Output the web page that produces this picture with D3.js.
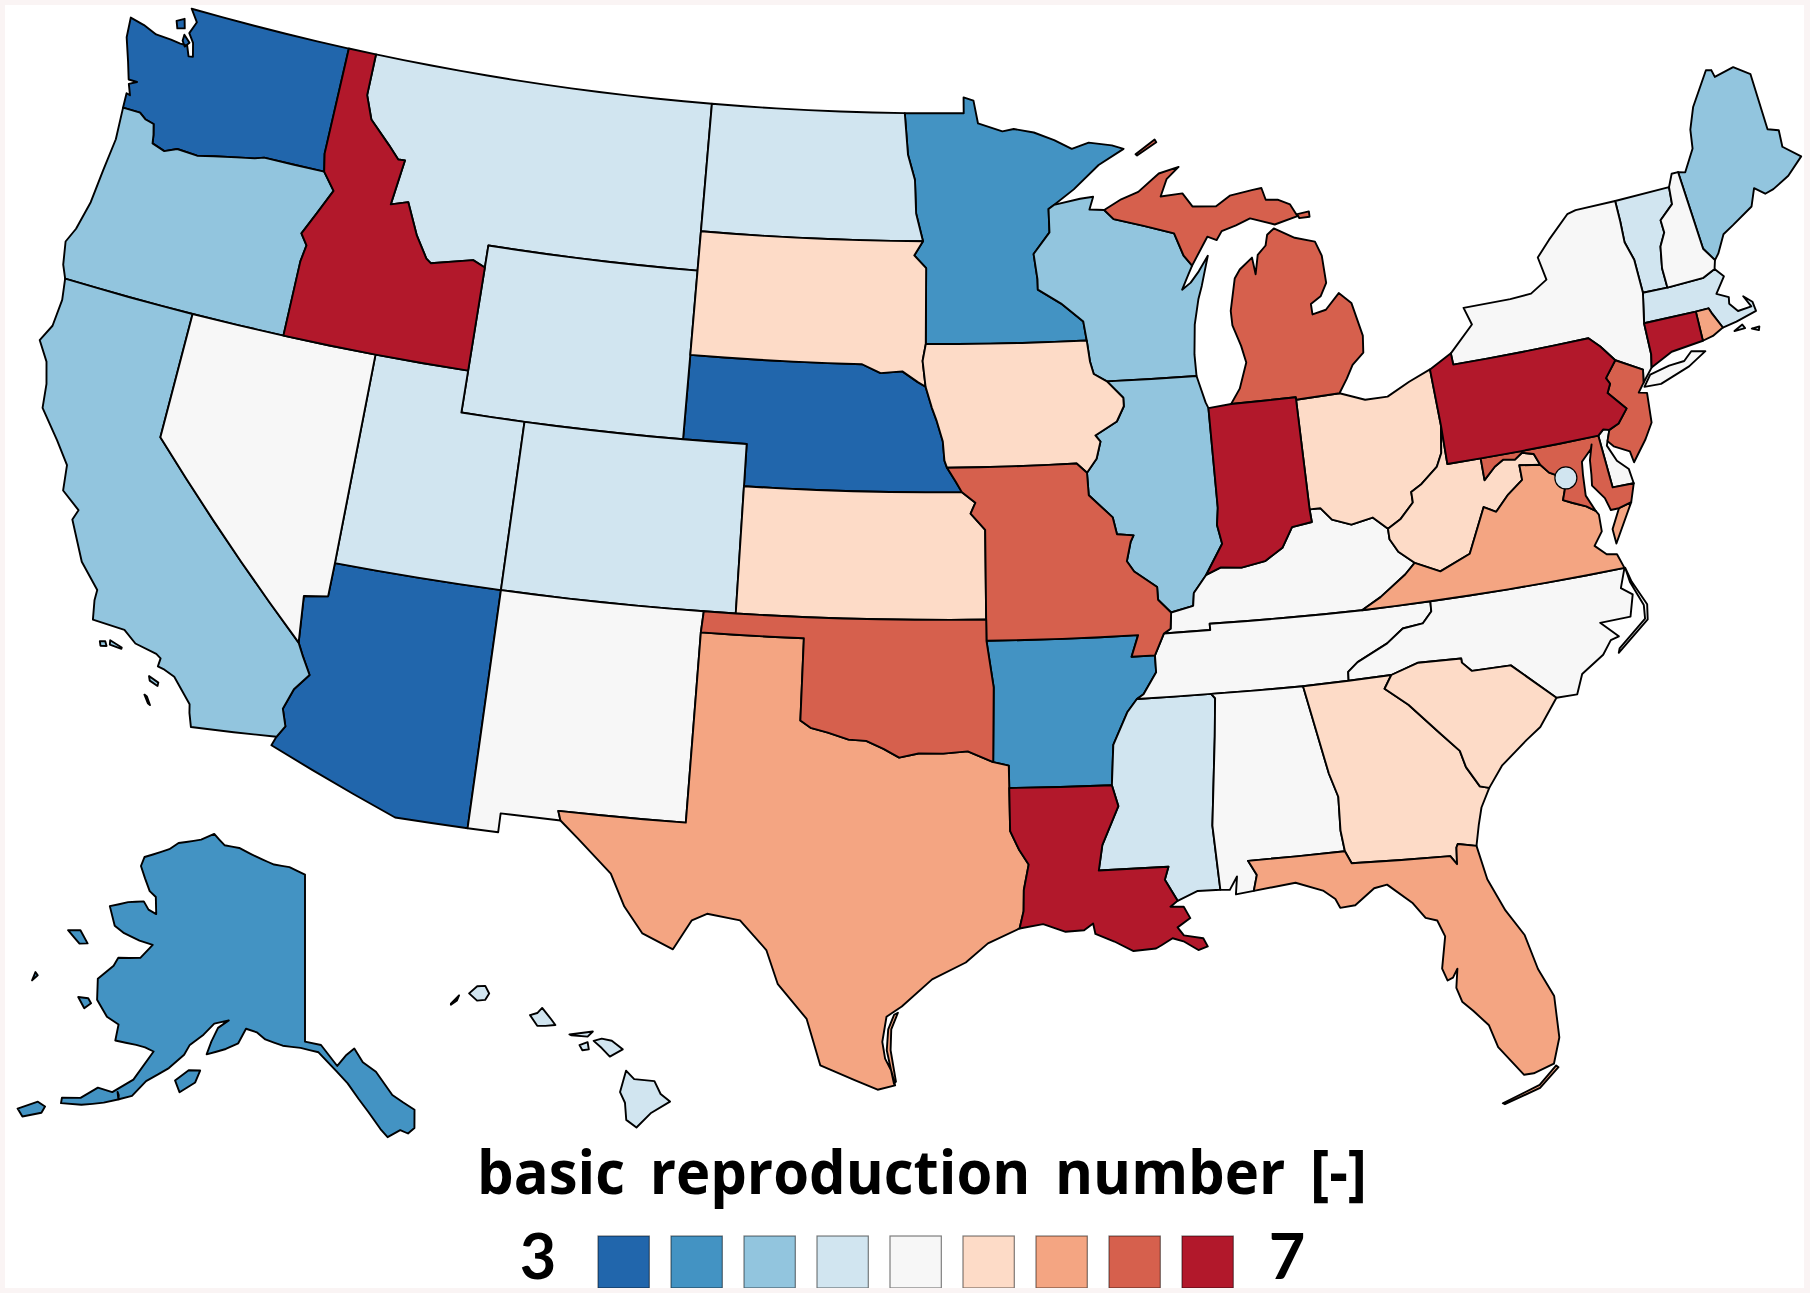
<!DOCTYPE html>
<html><head><meta charset="utf-8">
<script src="https://cdn.jsdelivr.net/npm/d3@7"></script>
<style>html,body{margin:0;padding:0;background:#faf4f4}svg{display:block}</style>
</head><body><svg id="chart" width="1810" height="1293"></svg>
<script>
// ---------- values ----------
const legendTitle = "basic reproduction number [-]";
const legendLow = "3", legendHigh = "7";
const r0Domain = [3, 7];
const stateNames = ["WA","NE","AZ","MN","AR","AK","OR","CA","WI","IL","ME","MT","ND","WY","UT","CO","MS","VT","MA","HI","DC","NV","NM","NY","NH","DE","KY","TN","NC","AL","SD","IA","KS","OH","WV","GA","SC","TX","VA","FL","RI","MI","MO","OK","NJ","MD","ID","LA","IN","PA","CT"];
const stateR0 =    [3.2,3.2,3.2,3.7,3.7,3.7,4.1,4.1,4.1,4.1,4.1,4.5,4.5,4.5,4.5,4.5,4.5,4.5,4.5,4.5,4.5,5.0,5.0,5.0,5.0,5.0,5.0,5.0,5.0,5.0,5.4,5.4,5.4,5.4,5.4,5.4,5.4,5.9,5.9,5.9,5.9,6.3,6.3,6.3,6.3,6.3,6.8,6.8,6.8,6.8,6.8];
const dcLocation = [-77.03,38.9];

// ---------- shared borders, [longitude, latitude] ----------
const waCoast=[[-122.76,49],[-122.45,48.72],[-122.6,48.42],[-122.38,48.22],[-122.25,47.9],[-122.4,47.88],[-122.55,48.12],[-122.8,48.12],[-123.15,48.15],[-123.7,48.17],[-124.2,48.3],[-124.72,48.38],[-124.65,47.9],[-124.35,47.35],[-124.15,46.95],[-123.85,46.95],[-124.1,46.85],[-123.95,46.6],[-124.08,46.62],[-124.05,46.27]];
const waOr=[[-124.05,46.27],[-123.45,46.27],[-123.2,46.15],[-122.9,46.1],[-122.8,45.85],[-122.75,45.65],[-122.3,45.55],[-121.9,45.68],[-121.2,45.65],[-120.65,45.74],[-119.9,45.85],[-119.3,45.93],[-119,46],[-116.92,46]];
const waId=[[-117.03,49],[-117.04,46.42],[-116.92,46]];
const orId=[[-116.92,46],[-116.47,45.6],[-116.85,45],[-117.2,44.45],[-116.95,44.2],[-117.03,43.8],[-117.03,42]];
const orCoast=[[-124.21,42],[-124.4,42.3],[-124.55,42.84],[-124.35,43.2],[-124.15,43.9],[-124.07,44.7],[-123.97,45.5],[-124.05,46.27]];
const idMt=[[-116.05,49],[-116.05,48],[-115.73,47.45],[-114.95,46.93],[-114.55,46.64],[-114.32,46.65],[-114.5,45.56],[-113.94,45.69],[-113.45,44.95],[-113,44.45],[-112.83,44.36],[-111.47,44.6],[-111.05,44.47]];
const caCoast=[[-117.12,32.53],[-117.25,32.85],[-117.3,33.05],[-117.9,33.6],[-118.25,33.72],[-118.42,33.75],[-118.4,33.95],[-118.55,34.03],[-119.2,34.15],[-119.6,34.4],[-120.55,34.45],[-120.65,34.9],[-120.65,35.15],[-121.3,35.7],[-121.9,36.6],[-121.8,36.85],[-122.4,37.2],[-122.5,37.8],[-123,38.3],[-123.7,38.93],[-123.8,39.5],[-124,40],[-124.4,40.44],[-124.15,40.85],[-124.1,41.5],[-124.21,42]];
const caAz=[[-114.72,32.72],[-114.53,33],[-114.7,33.4],[-114.5,33.9],[-114.14,34.3],[-114.43,34.7],[-114.63,35]];
const redRiver=[[-100,34.56],[-99.7,34.4],[-99.2,34.3],[-98.6,34.15],[-98.1,34.13],[-97.6,33.95],[-97.15,33.75],[-96.6,33.85],[-95.9,33.85],[-95.2,33.9],[-94.48,33.64]];
const txLa=[[-94.04,33.02],[-94.04,32],[-93.8,31.55],[-93.55,31.2],[-93.7,30.6],[-93.72,30.1],[-93.84,29.69]];
const txCoast=[[-93.84,29.69],[-94.7,29.35],[-95.3,28.9],[-96.2,28.5],[-97,27.85],[-97.4,27.6],[-97.5,27],[-97.42,26.6],[-97.25,26.3],[-97.15,25.96]];
const rioGrande=[[-97.15,25.96],[-97.6,25.85],[-98.2,26.07],[-99.1,26.4],[-99.5,27.5],[-100.3,28.3],[-100.65,29.1],[-101.4,29.77],[-102.3,29.88],[-102.7,29.7],[-103.15,28.98],[-104,29.3],[-104.55,29.9],[-105,30.65],[-106,31.4],[-106.53,31.78]];
const ksMo=[[-95.31,40],[-94.9,39.75],[-95.05,39.5],[-94.61,39.11]];
const neSd=[[-98.5,43],[-97.9,42.8],[-97.2,42.85],[-96.7,42.6],[-96.45,42.49]];
const neIa=[[-96.45,42.49],[-96.25,42],[-96.1,41.7],[-95.9,41.2],[-95.85,40.75],[-95.77,40.58]];
const neMo=[[-95.77,40.58],[-95.5,40.25],[-95.31,40]];
const sdMn=[[-96.56,45.94],[-96.85,45.6],[-96.45,45.3],[-96.45,43.5]];
const sdIa=[[-96.45,43.5],[-96.55,43.1],[-96.45,42.49]];
const ndMn=[[-97.23,49],[-97.1,48],[-96.85,47.4],[-96.8,46.6],[-96.56,45.94]];
const mnNorth=[[-95.15,49],[-95.15,49.38],[-94.8,49.3],[-94.65,48.75],[-93.8,48.55],[-93.4,48.6],[-92.7,48.5],[-92,48.3],[-91.4,48.07],[-90.8,48.2],[-90,48.1],[-89.6,48],[-90.5,47.65],[-91.4,47.1],[-92.1,46.75]];
const mnWi=[[-92.1,46.75],[-92.29,46.66],[-92.29,46.1],[-92.85,45.6],[-92.75,45],[-92.75,44.75],[-92,44.4],[-91.3,43.95],[-91.22,43.5]];
const iaWi=[[-91.22,43.5],[-91.15,43],[-91.05,42.7],[-90.64,42.51]];
const iaIl=[[-90.64,42.51],[-90.15,42.1],[-90.15,41.9],[-90.4,41.55],[-91.1,41.25],[-90.95,41.1],[-91.1,40.7],[-91.42,40.38]];
const wiSuperior=[[-92.1,46.75],[-91.2,46.87],[-90.75,46.9],[-90.9,46.6],[-90.4,46.57]];
const wiMi=[[-90.4,46.57],[-90.1,46.34],[-89.1,46.13],[-88.1,45.9],[-87.85,45.35],[-87.6,45.1]];
const wiLake=[[-87.6,45.1],[-87.75,44.9],[-88,44.55],[-87.7,44.7],[-87.4,44.95],[-87.05,45.3],[-87.35,44.6],[-87.5,44.3],[-87.7,43.7],[-87.8,43],[-87.8,42.49]];
const ilIn=[[-87.53,41.71],[-87.53,39.35],[-87.6,38.95],[-87.5,38.5],[-88.05,37.8]];
const ilKy=[[-88.05,37.8],[-88.45,37.4],[-88.5,37.1],[-89.15,36.98]];
const ilMo=[[-89.15,36.98],[-89.5,37.3],[-89.5,37.6],[-90.15,38],[-90.35,38.25],[-90.2,38.7],[-90.1,38.85],[-90.6,38.9],[-90.7,39.3],[-91.4,39.85],[-91.42,40.38]];
const inKy=[[-84.82,39.1],[-84.8,38.8],[-85.4,38.73],[-85.75,38.27],[-86.3,38],[-87,37.9],[-87.6,37.95],[-88.05,37.8]];
const ohWv=[[-80.52,40.64],[-80.65,40],[-80.85,39.7],[-81.4,39.35],[-81.75,39.2],[-81.75,38.95],[-82.2,38.6],[-82.6,38.42]];
const ohKy=[[-82.6,38.42],[-83,38.73],[-83.65,38.63],[-84.2,38.8],[-84.5,39.1],[-84.82,39.1]];
const tnKy=[[-89.4,36.5],[-88.07,36.5],[-88.07,36.65],[-83.68,36.6]];
const kyVa=[[-83.68,36.6],[-83.1,36.85],[-82.3,37.3],[-81.97,37.54]];
const kyWv=[[-81.97,37.54],[-82.4,37.85],[-82.6,38.17],[-82.6,38.42]];
const ncTn=[[-81.68,36.59],[-81.7,36.35],[-82,36.1],[-82.6,36.05],[-83.1,35.75],[-84,35.4],[-84.3,35.2],[-84.32,34.99]];
const arTn=[[-89.7,36],[-89.7,35.6],[-90.1,35.1],[-90.3,35]];
const arMs=[[-90.3,35],[-90.6,34.7],[-91.05,33.95],[-91.15,33]];
const laMs=[[-91.15,33],[-91,32.5],[-91.5,31.6],[-91.63,31],[-89.73,31],[-89.85,30.7],[-89.55,30.18]];
const laCoast=[[-89.55,30.18],[-89.75,30.05],[-89.4,30.03],[-89.25,29.75],[-89.6,29.55],[-89.45,29.35],[-88.95,29.25],[-88.85,29.05],[-89.1,28.98],[-89.45,29.2],[-89.75,29.3],[-90.05,29.15],[-90.2,29.08],[-90.8,29.05],[-91.3,29.3],[-91.8,29.5],[-91.85,29.75],[-92.1,29.6],[-92.6,29.58],[-93.2,29.78],[-93.84,29.69]];
const msAl=[[-88.4,30.37],[-88.47,31.9],[-88.2,34],[-88.1,34.89],[-88.2,35]];
const alGa=[[-85.61,34.98],[-85.18,32.87],[-85,32.3],[-85.05,31.5],[-85,31]];
const gaFl=[[-85,31],[-84.86,30.7],[-82.2,30.57],[-82.05,30.36],[-82,30.75],[-81.95,30.83],[-81.45,30.72]];
const gaSc=[[-83.11,35],[-83.35,34.7],[-82.75,34.25],[-82,33.5],[-81.5,33],[-81.4,32.6],[-81.1,32.1],[-80.85,32.03]];
const gaCoast=[[-80.85,32.03],[-81.15,31.6],[-81.3,31.2],[-81.45,30.72]];
const flCoast=[[-81.45,30.72],[-81.3,29.9],[-80.95,29.1],[-80.55,28.45],[-80.35,27.6],[-80.05,26.9],[-80.1,25.9],[-80.35,25.3],[-80.9,25.15],[-81.15,25.15],[-81.7,25.9],[-81.85,26.45],[-82.2,26.85],[-82.45,27.1],[-82.55,27.45],[-82.45,27.9],[-82.6,27.7],[-82.75,27.65],[-82.85,27.95],[-82.65,28.7],[-82.8,29.1],[-83.1,29.2],[-83.4,29.6],[-84,30.1],[-84.35,30.05],[-84.9,29.7],[-85.3,29.68],[-85.4,29.9],[-85.7,30.13],[-86.4,30.38],[-87.52,30.28]];
const scNc=[[-83.11,35],[-82.3,35.2],[-81.05,35.15],[-81.05,35.05],[-80.8,34.82],[-79.67,34.8],[-78.55,33.86]];
const scCoast=[[-78.55,33.86],[-79.15,33.25],[-79.6,33],[-80.4,32.5],[-80.85,32.03]];
const ncCoast=[[-78.55,33.86],[-77.95,33.85],[-77.7,34.3],[-77,34.65],[-76.7,34.95],[-76.45,35],[-76.9,35.4],[-76,35.4],[-75.8,35.9],[-76.1,36.1],[-75.87,36.55]];
const mdVa=[[-77.72,39.32],[-77.5,39.1],[-77.12,38.93],[-77.05,38.8],[-77.25,38.4],[-77,38.3],[-76.6,38.15],[-76.35,38]];
const mdWv=[[-79.48,39.2],[-79.1,39.47],[-78.8,39.6],[-78.45,39.55],[-78.2,39.68],[-77.85,39.6],[-77.72,39.32]];
const vaWv=[[-77.72,39.32],[-78.35,39.4],[-78.35,39.05],[-78.85,38.77],[-79.3,38.42],[-79.65,38.58],[-80.3,37.55],[-81.25,37.25],[-81.97,37.54]];
const paNj=[[-74.7,41.36],[-75.13,41],[-75.05,40.85],[-75.2,40.65],[-74.75,40.2],[-75.1,39.9],[-75.42,39.8]];
const nyNorth=[[-79.76,42.27],[-78.9,42.85],[-79.05,43.27],[-77.5,43.27],[-76.8,43.3],[-76.2,43.55],[-76.3,44.1],[-75.8,44.45],[-75,44.95],[-74.7,45],[-73.35,45]];
const nyVt=[[-73.35,45],[-73.35,44.5],[-73.4,44],[-73.25,43.55],[-73.27,42.75]];
const vtNh=[[-71.5,45.01],[-71.55,44.6],[-72.05,44.3],[-72.05,44],[-72.3,43.7],[-72.45,43.2],[-72.46,42.73]];
const nhMe=[[-71.08,45.3],[-70.98,43.4],[-70.72,43.07]];
const rev=a=>a.slice().reverse();

// ---------- state outlines: each state is a list of rings ----------
const shapes={
WA:[[...waCoast,...waOr,...rev(waId)],[[-123.15,48.62],[-122.9,48.72],[-122.8,48.5],[-123.05,48.45]],[[-122.75,48.35],[-122.5,48.2],[-122.62,48.08],[-122.75,48.2]]],
OR:[[...waOr,...orId,[-120,42],...orCoast]],
ID:[[[-117.03,49],...idMt,[-111.05,42],[-114.04,42],[-117.03,42],...rev(orId),...rev(waId)]],
MT:[[[-116.05,49],[-104.05,49],[-104.05,45.94],[-104.05,45],[-111.05,45],...rev(idMt)]],
WY:[[[-111.05,45],[-104.05,45],[-104.05,43],[-104.05,41],[-109.05,41],[-111.05,41],[-111.05,42],[-111.05,44.47]]],
UT:[[[-114.04,42],[-111.05,42],[-111.05,41],[-109.05,41],[-109.05,37],[-114.04,37]]],
CO:[[[-109.05,41],[-104.05,41],[-102.05,41],[-102.05,40],[-102.05,37],[-103,37],[-109.05,37]]],
NV:[[[-120,42],[-117.03,42],[-114.04,42],[-114.04,37],[-114.05,36.2],[-114.75,36.1],[-114.63,35],[-120,39]]],
CA:[[[-124.21,42],[-120,42],[-120,39],...rev(caAz),...caCoast],
    [[-120.2,34],[-120.05,34.03],[-119.98,33.93],[-120.15,33.9]],[[-119.92,34.08],[-119.55,33.98],[-119.55,33.95],[-119.9,33.98]],[[-118.6,33.48],[-118.3,33.38],[-118.3,33.3],[-118.55,33.38]],[[-118.6,33.03],[-118.45,32.85],[-118.38,32.82],[-118.52,33]]],
AZ:[[[-114.04,37],[-109.05,37],[-109.05,31.33],[-111.07,31.33],[-114.81,32.5],...caAz,[-114.75,36.1],[-114.05,36.2]]],
NM:[[[-109.05,37],[-103,37],[-103.04,36.5],[-103.06,32],[-106.62,32],[-106.53,31.78],[-108.2,31.78],[-108.2,31.33],[-109.05,31.33]]],
TX:[[[-103.04,36.5],[-100,36.5],...redRiver,[-94.04,33.55],...txLa,...txCoast,...rioGrande,[-106.62,32],[-103.06,32]],
    [[-97.1,27.7],[-97.27,27.3],[-97.28,26.8],[-97.13,26.05],[-97.18,26],[-97.38,26.8],[-97.35,27.3],[-97.2,27.65]]],
OK:[[[-103,37],[-102.05,37],[-94.62,37],[-94.62,36.5],[-94.43,35.4],...rev(redRiver),[-100,36.5],[-103.04,36.5]]],
KS:[[[-102.05,40],...ksMo,[-94.62,37],[-102.05,37]]],
NE:[[[-104.05,43],...neSd,...neIa,...neMo,[-102.05,40],[-102.05,41],[-104.05,41]]],
SD:[[[-104.05,45.94],...sdMn,...sdIa,...rev(neSd),[-104.05,43],[-104.05,45]]],
ND:[[[-104.05,49],...ndMn,[-104.05,45.94]]],
MN:[[[-97.23,49],...mnNorth,...mnWi,...rev(sdMn),...rev(ndMn)]],
IA:[[[-96.45,43.5],...iaWi,...iaIl,[-91.73,40.61],...rev(neIa),...rev(sdIa)]],
WI:[[...rev(mnWi),...wiSuperior,...wiMi,...wiLake,...rev(iaWi)]],
IL:[[[-90.64,42.51],[-87.8,42.49],[-87.6,41.85],...ilIn,...ilKy,...ilMo,...rev(iaIl)]],
IN:[[[-87.53,41.71],[-86.82,41.76],[-84.81,41.76],[-84.81,41.7],...inKy,...rev(ilIn)]],
OH:[[[-84.81,41.7],[-83.45,41.73],[-82.7,41.5],[-82,41.5],[-81.25,41.77],[-80.52,41.98],...ohWv,...ohKy]],
KY:[[...inKy,...ilKy,[-89.2,36.6],...tnKy,...kyVa,...kyWv,...ohKy]],
TN:[[...tnKy,...ncTn,[-85.61,34.98],[-88.2,35],...rev(arTn)]],
AR:[[[-94.62,36.5],[-90.15,36.5],[-90.38,36],...arTn,...arMs,[-94.04,33.02],[-94.04,33.55],[-94.48,33.64],[-94.43,35.4]]],
MO:[[[-95.77,40.58],[-91.73,40.61],...rev(ilMo),[-89.2,36.6],[-89.4,36.5],[-89.7,36],[-90.38,36],[-90.15,36.5],[-94.62,36.5],[-94.62,37],...rev(ksMo),...rev(neMo)]],
LA:[[...txLa.slice(0,1),...arMs.slice(-1),...laMs,...laCoast,...rev(txLa)]],
MS:[[[-90.3,35],[-88.2,35],...rev(msAl),[-89,30.38],...rev(laMs),...rev(arMs)]],
AL:[[[-88.2,35],...alGa,[-87.6,31],[-87.4,30.65],[-87.52,30.28],[-88,30.23],[-87.93,30.65],[-88.15,30.35],...msAl]],
GA:[[[-85.61,34.98],[-84.32,34.99],...gaSc,...gaCoast,...rev(gaFl),...rev(alGa)]],
FL:[[...gaFl,...flCoast,[-87.4,30.65],[-87.6,31]],
    [[-80.3,25.25],[-80.8,24.85],[-81.8,24.55],[-81.75,24.52],[-80.8,24.78],[-80.25,25.2]]],
SC:[[...scNc,...scCoast,...rev(gaSc)]],
NC:[[...scNc,...ncCoast,...ncTn,[-83.11,35]],
    [[-76.55,34.62],[-75.53,35.25],[-75.45,35.6],[-75.75,36.2],[-75.85,36.55],[-75.8,36.2],[-75.55,35.6],[-75.6,35.28],[-76.5,34.72]]],
VA:[[[-75.87,36.55],[-76,36.9],[-76.3,36.95],[-76.6,37.2],[-76.3,37.5],[-76.28,37.9],...rev(mdVa),...vaWv,...rev(kyVa),[-81.68,36.59]],
    [[-75.65,37.95],[-75.25,38.03],[-75.95,37.15],[-75.97,37.5]]],
MD:[[[-75.79,39.72],[-79.48,39.72],...mdWv,...mdVa,[-76.55,38.4],[-76.5,38.9],[-76.45,39.2],[-76.1,39.45],[-76.05,39.55],[-76.2,39.2],[-76.25,38.85],[-76.3,38.6],[-76,38.25],[-75.9,37.95],[-75.65,37.95],[-75.25,38.03],[-75.05,38.45],[-75.7,38.46]]],
WV:[[[-80.52,40.64],[-80.52,39.72],[-79.48,39.72],...mdWv,...vaWv,...kyWv,...rev(ohWv)]],
PA:[[[-80.52,41.98],[-79.76,42.27],[-79.76,42],[-75.35,42],[-75.05,41.75],...paNj,[-75.6,39.84],[-75.79,39.72],[-79.48,39.72],[-80.52,39.72],[-80.52,40.64]]],
NY:[[...nyNorth,...nyVt,[-73.5,42.05],[-73.55,41.3],[-73.65,41],[-73.9,40.8],[-74.02,40.7],[-73.93,41],[-74.7,41.36],[-75.05,41.75],[-75.35,42],[-79.76,42]],
    [[-74.03,40.6],[-73.75,40.85],[-73.1,40.95],[-72.6,40.97],[-72.3,41.15],[-71.87,41.07],[-72.5,40.82],[-73.5,40.58]]],
NJ:[[[-74.7,41.36],[-73.93,41],[-74.02,40.7],[-74.25,40.5],[-74,40.45],[-74.1,39.75],[-74.4,39.4],[-74.9,38.93],[-74.95,39.2],[-75.4,39.4],[-75.55,39.55],...rev(paNj)]],
DE:[[[-75.79,39.72],[-75.6,39.84],[-75.42,39.8],[-75.6,39.45],[-75.4,39.05],[-75.1,38.8],[-75.05,38.45],[-75.7,38.46]]],
VT:[[[-73.35,45],...vtNh,...rev(nyVt)]],
NH:[[[-71.5,45.01],[-71.3,45.3],...nhMe,[-70.82,42.87],[-71.25,42.74],...rev(vtNh)]],
ME:[[[-71.08,45.3],[-70.85,45.25],[-70.4,45.75],[-70.3,46.2],[-70,46.7],[-69.23,47.46],[-69.05,47.43],[-69,47.25],[-68.3,47.35],[-67.8,47.07],[-67.8,45.7],[-67.45,45.6],[-67.5,45.2],[-67,44.85],[-67.6,44.5],[-68.2,44.3],[-68.5,44.25],[-68.8,44.45],[-69.05,44.05],[-69.8,43.75],[-70.2,43.6],[-70.55,43.2],...rev(nhMe)]],
MA:[[[-73.27,42.75],[-73.5,42.05],[-71.8,42.02],[-71.38,42.02],[-71.33,41.9],[-71.12,41.5],[-70.65,41.55],[-69.95,41.67],[-69.97,41.9],[-70.2,42.08],[-70.05,41.8],[-70.5,41.78],[-70.7,42],[-70.65,42.15],[-71,42.3],[-70.6,42.65],[-70.82,42.87],[-71.25,42.74],[-72.46,42.73]],
    [[-70.8,41.35],[-70.5,41.45],[-70.45,41.35]],[[-70.25,41.3],[-70,41.3],[-70.05,41.22]]],
RI:[[[-71.8,42.02],[-71.38,42.02],[-71.33,41.9],[-71.12,41.5],[-71.5,41.37],[-71.85,41.32]]],
CT:[[[-73.5,42.05],[-71.8,42.02],[-71.85,41.32],[-72.9,41.25],[-73.65,41],[-73.55,41.3]]],
MI:[[[-90.4,46.57],[-89.8,46.8],[-89.2,46.95],[-88.45,47.35],[-87.75,47.47],[-88.2,47.2],[-88.45,46.8],[-87.7,46.83],[-87.4,46.5],[-86.6,46.45],[-86.1,46.67],[-85.3,46.75],[-85,46.77],[-84.9,46.48],[-84.5,46.45],[-84.1,46.3],[-83.9,46],[-84.7,45.87],[-85.5,46.08],[-86,45.95],[-86.5,45.85],[-86.7,45.65],[-87,45.75],...rev(wiMi)],
    [[-86.82,41.76],[-86.5,42.1],[-86.2,42.7],[-86.3,43.1],[-86.5,43.6],[-86.5,43.95],[-86.25,44.7],[-86.05,44.9],[-85.6,45.15],[-85.55,44.75],[-85.4,45.2],[-85.1,45.4],[-85,45.65],[-84.75,45.78],[-84.1,45.5],[-83.45,45.35],[-83.3,45],[-83.3,44.35],[-83.55,44.05],[-83.9,43.9],[-83.9,43.65],[-83.45,43.72],[-82.95,44.07],[-82.6,43.8],[-82.42,43],[-82.5,42.6],[-82.9,42.35],[-83.15,42.05],[-83.45,41.73],[-84.81,41.7],[-84.81,41.76]],
    [[-89.2,47.85],[-88.5,48.17],[-88.45,48.1],[-89.15,47.82]],[[-83.9,46.05],[-83.5,46.08],[-83.5,45.95],[-83.85,45.95]]],
AK:[[[-141,69.65],[-141,60.3],[-139.2,60.1],[-137.5,58.9],[-136.5,59.45],[-135.5,59.8],[-134.7,59],[-133.4,58.4],[-132,57],[-130,56],[-130.3,55],[-131,54.75],[-131.7,55],[-133,54.7],[-133.6,55.2],[-134.6,56.2],[-135.5,57],[-136.5,57.9],[-137.6,58.6],[-139.5,59.7],[-141.5,59.95],[-143.5,60.05],[-145.5,60.35],[-146.5,60.7],[-147.8,60.85],[-148.5,60],[-149.8,59.6],[-151.8,59.15],[-151.5,59.9],[-151,60.7],[-149.9,61.2],[-151.5,60.9],[-152.5,60.2],[-153.8,59.5],[-154.2,58.9],[-155.5,58],[-157.5,57],[-158.5,56],[-161,55.2],[-163,54.7],[-164.9,54.4],[-165,54.7],[-163.3,55.05],[-162,55.9],[-160.5,55.9],[-158.8,56.9],[-157.5,58.7],[-158.5,58.8],[-159.5,58.8],[-161.8,58.7],[-162,59.6],[-163.5,59.8],[-165.2,60.5],[-166,61.6],[-164.8,62.6],[-164.6,63.1],[-162,63.5],[-161,64.4],[-162.8,64.4],[-165,64.5],[-166.5,64.7],[-168.1,65.6],[-166,66.2],[-164,66.55],[-163,66.2],[-161.8,66.1],[-162.6,67],[-163.7,67.2],[-166.2,68.35],[-166.2,68.9],[-163,69.8],[-161.9,70.3],[-158.5,70.85],[-156.6,71.35],[-154.5,70.85],[-152,70.85],[-149,70.5],[-146,70.15],[-143.5,70.05]],
    [[-154.6,57.4],[-153.4,58.1],[-152.2,58.2],[-152.5,57.5],[-153.9,56.8]],[[-167.3,60.25],[-166.2,60.4],[-165.7,60.2],[-166.2,59.8]],[[-171.7,63.4],[-170.3,63.7],[-168.8,63.2],[-169.7,63]],[[-172.9,60.5],[-172.5,60.4],[-172.8,60.0]],[[-168.5,53.2],[-167,54],[-166.2,53.9],[-166.3,53.5],[-167.8,52.9]],[[-160,56],[-159.8,55.85],[-159.7,55.6]]],
HI:[[[-160.25,21.8],[-160.05,22],[-160.1,21.88],[-160.25,21.78]],[[-159.8,22.05],[-159.6,22.22],[-159.4,22.23],[-159.3,22.05],[-159.4,21.9],[-159.6,21.88]],[[-158.28,21.55],[-158.1,21.6],[-157.98,21.72],[-157.75,21.45],[-157.65,21.32],[-157.9,21.3],[-158.1,21.3]],[[-157.3,21.1],[-156.72,21.17],[-156.85,21.05],[-157.25,21.08]],[[-157.05,20.85],[-156.85,20.92],[-156.82,20.75],[-156.98,20.73]],[[-156.7,20.95],[-156.5,21],[-156.25,20.95],[-155.98,20.75],[-156.3,20.58],[-156.5,20.78]],[[-155.9,20.25],[-155.7,20.05],[-155.2,20],[-155.05,19.7],[-154.82,19.52],[-155.3,19.25],[-155.65,18.92],[-155.9,19.1],[-155.93,19.5],[-156.05,19.75]]]
};

// ---------- scales ----------
const colors = d3.schemeRdBu[9].slice().reverse();
const color = d3.scaleQuantize().domain(r0Domain).range(colors);
const legendScale = d3.scaleBand().domain(d3.range(colors.length)).range([598,1233.3]).paddingInner(0.297);

// ---------- projections ----------
const k = 2460, cx = 920, cy = 535;
const albers = d3.geoAlbers().rotate([96,0]).center([-0.6,38.7]).parallels([29.5,45.5]).scale(k).translate([cx,cy]);
const ramp = d3.scaleLinear().domain([0,1]).range([0,1]).clamp(true);
const adjust = d3.geoTransform({point(x,y){
  const dx = 7*ramp((x-1150)/250)*ramp((y-200)/200);
  this.stream.point(0.993*x+6.3+dx,0.98*y+23.3);
}});
const lower48 = {stream:s=>albers.stream(adjust.stream(s))};
const alaska = d3.geoConicEqualArea().rotate([141,0]).center([0,58.5]).parallels([55,65]).scale(1026).translate([305,1074]);
const hawaii = d3.geoConicEqualArea().rotate([157,0]).center([-3,19.9]).parallels([8,18]).scale(k).translate([460,1085]);

// Follow parallels on straight borders rather than great circles.
function densify(ring){
  const out=[];
  ring.forEach((p,i)=>{const q=ring[(i+1)%ring.length];out.push(p);
    const n=Math.floor(Math.abs(q[0]-p[0]));
    for(let j=1;j<n;j++)out.push([p[0]+(q[0]-p[0])*j/n,p[1]+(q[1]-p[1])*j/n]);});
  out.push(out[0]);
  return out;
}
function orient(ring){
  const g={type:"Polygon",coordinates:[ring]};
  return d3.geoArea(g)>2*Math.PI?ring.slice().reverse():ring;
}
const features=stateNames.filter(s=>s!=="DC").map(s=>({type:"Feature",id:s,
  properties:{r0:stateR0[stateNames.indexOf(s)]},
  geometry:{type:"MultiPolygon",coordinates:shapes[s].map(r=>[orient(densify(r))])}}));

const svg=d3.select("#chart");
svg.append("rect").attr("x",5).attr("y",5).attr("width",1799).attr("height",1283).attr("fill","#fff");
const pathFor=s=>d3.geoPath(s==="AK"?alaska:s==="HI"?hawaii:lower48);
svg.append("g").selectAll("path").data(features).join("path")
  .attr("d",d=>pathFor(d.id)(d))
  .attr("fill",d=>color(d.properties.r0))
  .attr("stroke","#000").attr("stroke-width",1.9).attr("stroke-linejoin","round");
// District of Columbia marker
svg.append("path").datum({type:"Point",coordinates:dcLocation})
  .attr("d",d3.geoPath(lower48).pointRadius(11))
  .attr("fill",color(stateR0[stateNames.indexOf("DC")]))
  .attr("stroke","#000").attr("stroke-width",1.2);

// ---------- legend ----------
const font='"Open Sans", Lato, sans-serif';
svg.append("text").attr("x",477).attr("y",1194).attr("textLength",890).attr("lengthAdjust","spacingAndGlyphs")
  .attr("font-family",font).attr("font-weight",700).attr("font-size",60).attr("word-spacing",10).attr("fill","#000")
  .style("font-variant-ligatures","none").text(legendTitle);
svg.append("g").selectAll("rect").data(colors).join("rect")
  .attr("x",(d,i)=>legendScale(i)).attr("y",1236).attr("width",legendScale.bandwidth()).attr("height",52)
  .attr("fill",d=>d).attr("stroke","#000").attr("stroke-opacity",0.5).attr("stroke-width",1.2);
svg.append("rect").attr("x",0).attr("y",1288).attr("width",1810).attr("height",5).attr("fill","#faf4f4");
svg.append("text").attr("x",538).attr("y",1279).attr("text-anchor","middle").attr("font-family","Lato, sans-serif").attr("font-weight",700).attr("font-size",63).text(legendLow);
svg.append("text").attr("x",1287).attr("y",1279).attr("text-anchor","middle").attr("font-family","Lato, sans-serif").attr("font-weight",700).attr("font-size",63).text(legendHigh);
</script></body></html>
